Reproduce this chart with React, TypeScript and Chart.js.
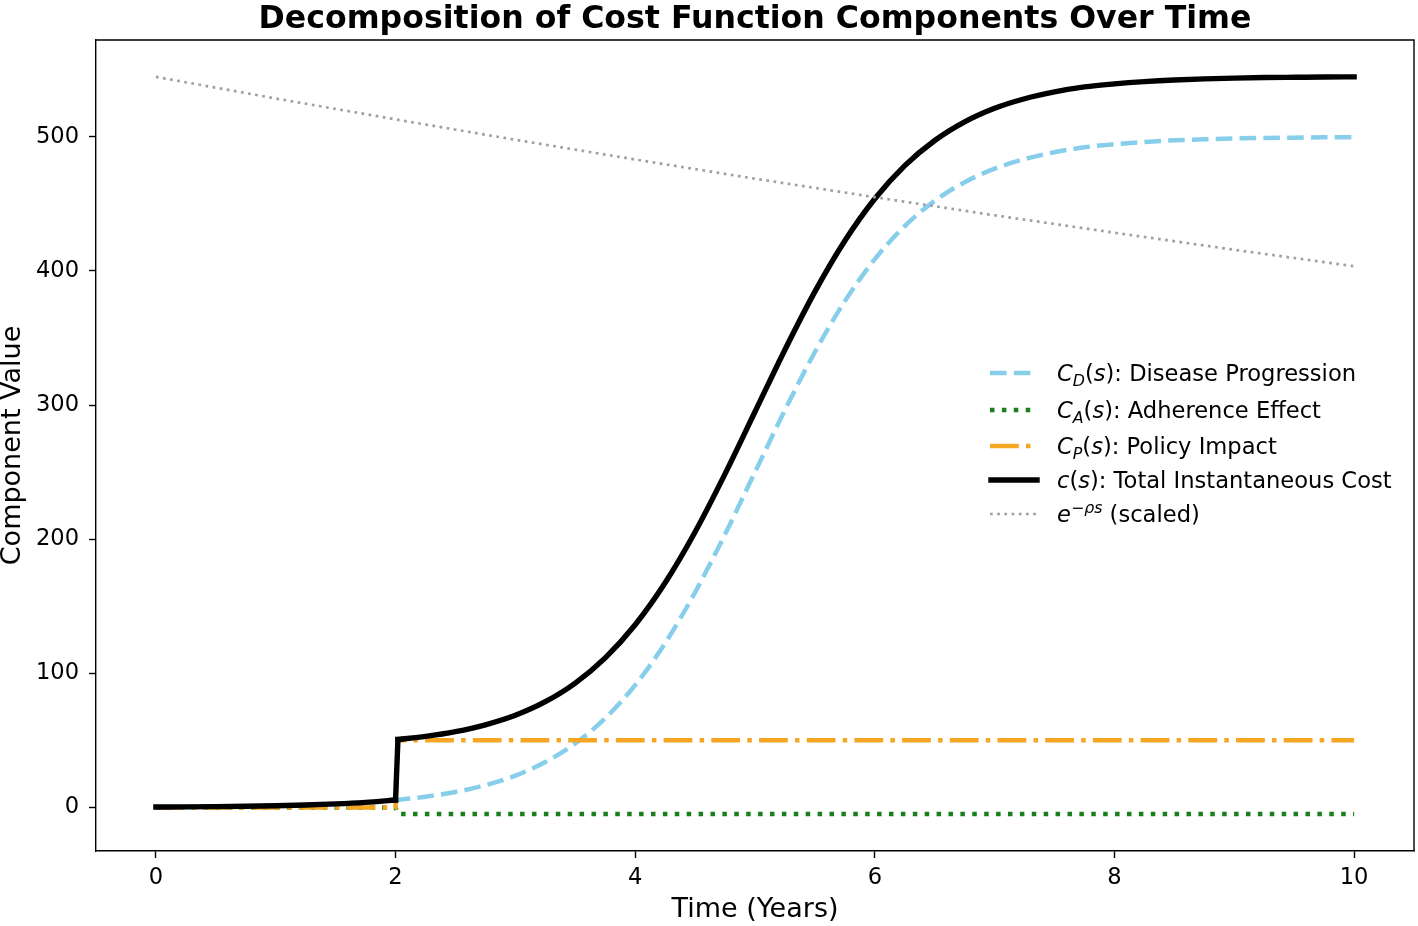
import { useEffect, useRef } from "react";
import { Chart, registerables } from "chart.js";

Chart.register(...registerables);

const FONT = '"DejaVu Sans", sans-serif';
Chart.defaults.font.family = FONT;

// time samples (years)
const timeGrid = [
  0, 0.25, 0.5, 0.75, 1, 1.25, 1.5, 1.75, 2, 2.25, 2.5, 2.75, 3, 3.25, 3.5, 3.75, 4, 4.25, 4.5, 4.75, 5,
  5.25, 5.5, 5.75, 6, 6.25, 6.5, 6.75, 7, 7.25, 7.5, 7.75, 8, 8.25, 8.5, 8.75, 9, 9.25, 9.5, 9.75, 10,
];
const diseaseValues = [
  0.28, 0.4, 0.59, 0.85, 1.24, 1.8, 2.61, 3.79, 5.49, 7.95, 11.5, 16.6, 23.7, 33.8, 47.7, 66.5, 91.2,
  122.5, 160.4, 203.7, 250, 296.3, 339.6, 377.5, 408.8, 433.5, 452.3, 466.2, 476.3, 483.4, 488.5, 492.2,
  494.5, 496.2, 497.4, 498.2, 498.8, 499.2, 499.4, 499.6, 499.7,
];

// total cost: jumps between 2 and 2.02 when adherence/policy switch on
const totalTimes = [
  0, 0.25, 0.5, 0.75, 1, 1.25, 1.5, 1.75, 2, 2.02, 2.25, 2.5, 2.75, 3, 3.25, 3.5, 3.75, 4, 4.25, 4.5, 4.75,
  5, 5.25, 5.5, 5.75, 6, 6.25, 6.5, 6.75, 7, 7.25, 7.5, 7.75, 8, 8.25, 8.5, 8.75, 9, 9.25, 9.5, 9.75, 10,
];
const totalValues = [
  0.28, 0.4, 0.59, 0.85, 1.24, 1.8, 2.61, 3.79, 5.49, 50.65, 52.95, 56.5, 61.6, 68.7, 78.8, 92.7, 111.5,
  136.2, 167.5, 205.4, 248.7, 295, 341.3, 384.6, 422.5, 453.8, 478.5, 497.3, 511.2, 521.3, 528.4, 533.5,
  537.2, 539.5, 541.2, 542.4, 543.2, 543.8, 544.2, 544.4, 544.6, 544.7,
];
const JUMP = 8; // index of last point before the jump

const stepTimes = [0, 2, 2.02, 10];
const adherenceValues = [0, 0, -5, -5];
const policyValues = [0, 0, 50, 50];

const discountTimes = [0, 1, 2, 3, 4, 5, 6, 7, 8, 9, 10];
const discountValues = [544.7, 528.6, 513.0, 497.8, 483.1, 468.8, 455.0, 441.5, 428.5, 415.8, 403.5];

const xTicks = [0, 2, 4, 6, 8, 10];
const yTicks = [0, 100, 200, 300, 400, 500];

const TITLE = "Decomposition of Cost Function Components Over Time";

const BLUE = "#87ceeb";
const GREEN = "#1a7f1a";
const ORANGE = "#f5a623";
const GRAY = "#a0a0a0";

const pts = (xs: number[], ys: number[]) => xs.map((x, i) => ({ x, y: ys[i] }));

type Run = { t: string; it?: boolean; sub?: boolean; sup?: boolean };

function drawRuns(ctx: CanvasRenderingContext2D, x: number, y: number, runs: Run[], size: number) {
  let cx = x;
  for (const r of runs) {
    const s = r.sub || r.sup ? size * 0.7 : size;
    ctx.font = `${r.it ? "italic " : ""}${s}px ${FONT}`;
    const dy = r.sub ? size * 0.2 : r.sup ? -size * 0.42 : 0;
    ctx.fillText(r.t, cx, y + dy);
    cx += ctx.measureText(r.t).width;
  }
}

const legendRows: { color: string; width: number; dash: number[]; cap: CanvasLineCap; y: number; runs: Run[] }[] = [
  {
    color: BLUE, width: 4.5, dash: [16.6, 7.2], cap: "butt", y: 373,
    runs: [{ t: "C", it: true }, { t: "D", it: true, sub: true }, { t: "(" }, { t: "s", it: true }, { t: "): Disease Progression" }],
  },
  {
    color: GREEN, width: 4.5, dash: [4.5, 7.4], cap: "butt", y: 410,
    runs: [{ t: "C", it: true }, { t: "A", it: true, sub: true }, { t: "(" }, { t: "s", it: true }, { t: "): Adherence Effect" }],
  },
  {
    color: ORANGE, width: 4.5, dash: [28.8, 7.2, 4.5, 7.2], cap: "butt", y: 446,
    runs: [{ t: "C", it: true }, { t: "P", it: true, sub: true }, { t: "(" }, { t: "s", it: true }, { t: "): Policy Impact" }],
  },
  {
    color: "#000", width: 5.4, dash: [], cap: "square", y: 480,
    runs: [{ t: "c", it: true }, { t: "(" }, { t: "s", it: true }, { t: "): Total Instantaneous Cost" }],
  },
  {
    color: GRAY, width: 2.7, dash: [2.7, 4.5], cap: "butt", y: 514,
    runs: [{ t: "e", it: true }, { t: "\u2212\u03c1s", it: true, sup: true }, { t: " (scaled)" }],
  },
];

const decorPlugin = {
  id: "decor",
  afterDraw(chart: Chart) {
    const ctx = chart.ctx;
    const { left, right, top, bottom } = chart.chartArea;
    ctx.save();
    // top and right spines
    ctx.strokeStyle = "#000";
    ctx.lineWidth = 1.4;
    ctx.beginPath();
    ctx.moveTo(left, top);
    ctx.lineTo(right, top);
    ctx.lineTo(right, bottom);
    ctx.stroke();

    // title
    ctx.fillStyle = "#000";
    ctx.font = `bold 31.6px ${FONT}`;
    ctx.textAlign = "center";
    ctx.textBaseline = "alphabetic";
    ctx.fillText(TITLE, (left + right) / 2, 28);

    // legend
    ctx.textAlign = "left";
    for (const row of legendRows) {
      ctx.strokeStyle = row.color;
      ctx.lineWidth = row.width;
      ctx.lineCap = row.cap;
      ctx.setLineDash(row.dash);
      ctx.beginPath();
      ctx.moveTo(row.cap === "square" ? 991 : 990, row.y);
      ctx.lineTo(1037, row.y);
      ctx.stroke();
      ctx.setLineDash([]);
      ctx.fillStyle = "#000";
      drawRuns(ctx, 1057, row.y + 8, row.runs, 22.6);
    }
    ctx.restore();
  },
};

const blackLine = {
  borderColor: "#000",
  borderWidth: 5.4,
  borderCapStyle: "square" as const,
  borderJoinStyle: "round" as const,
  pointRadius: 0,
  order: 2,
};

export default function App() {
  const canvasRef = useRef<HTMLCanvasElement>(null);

  useEffect(() => {
    const canvas = canvasRef.current;
    if (!canvas) return;

    const totalPts = pts(totalTimes, totalValues);

    const chart = new Chart(canvas, {
      type: "line",
      data: {
        datasets: [
          {
            label: "C_D(s): Disease Progression",
            data: pts(timeGrid, diseaseValues),
            borderColor: BLUE,
            borderWidth: 4.5,
            borderDash: [16.6, 7.2],
            cubicInterpolationMode: "monotone",
            pointRadius: 0,
            order: 5,
          },
          {
            label: "C_A(s): Adherence Effect",
            data: pts(stepTimes, adherenceValues),
            borderColor: GREEN,
            borderWidth: 4.5,
            borderDash: [4.5, 7.4],
            tension: 0,
            pointRadius: 0,
            order: 4,
          },
          {
            label: "C_P(s): Policy Impact",
            data: pts(stepTimes, policyValues),
            borderColor: ORANGE,
            borderWidth: 4.5,
            borderDash: [28.8, 7.2, 4.5, 7.2],
            tension: 0,
            pointRadius: 0,
            order: 3,
          },
          // total cost drawn in three pieces so the jump stays a straight edge
          {
            label: "c(s): Total Instantaneous Cost",
            data: totalPts.slice(0, JUMP + 1),
            cubicInterpolationMode: "monotone",
            ...blackLine,
          },
          {
            label: "c(s) jump",
            data: totalPts.slice(JUMP, JUMP + 2),
            tension: 0,
            ...blackLine,
          },
          {
            label: "c(s) after jump",
            data: totalPts.slice(JUMP + 1),
            cubicInterpolationMode: "monotone",
            ...blackLine,
          },
          {
            label: "e^{-rho s} (scaled)",
            data: pts(discountTimes, discountValues),
            borderColor: GRAY,
            borderWidth: 2.7,
            borderDash: [2.7, 4.5],
            tension: 0,
            pointRadius: 0,
            order: 1,
          },
        ],
      },
      options: {
        responsive: true,
        maintainAspectRatio: false,
        animation: false,
        layout: { padding: { left: 0, right: 4, top: 40, bottom: 0 } },
        plugins: {
          legend: { display: false },
          title: { display: false },
          tooltip: { enabled: false },
        },
        scales: {
          x: {
            type: "linear",
            min: -0.5,
            max: 10.5,
            afterBuildTicks: (scale: any) => {
              scale.ticks = xTicks.map((v) => ({ value: v }));
            },
            afterFit: (scale: any) => {
              scale.height = 75;
            },
            ticks: {
              color: "#000",
              font: { size: 22.6 },
              padding: 6.4,
              maxRotation: 0,
              autoSkip: false,
              callback: (v: any) => String(v),
            },
            grid: { drawOnChartArea: false, tickLength: 7, tickColor: "#000", tickWidth: 1.4 },
            border: { color: "#000", width: 1.4 },
            title: {
              display: true,
              text: "Time (Years)",
              color: "#000",
              font: { size: 27 },
              padding: { top: 0, bottom: 0 },
            },
          },
          y: {
            type: "linear",
            min: -32.5,
            max: 572.2,
            afterBuildTicks: (scale: any) => {
              scale.ticks = yTicks.map((v) => ({ value: v }));
            },
            afterFit: (scale: any) => {
              scale.width = 96;
            },
            ticks: {
              color: "#000",
              font: { size: 22.6 },
              padding: 10,
              autoSkip: false,
              callback: (v: any) => String(v),
            },
            grid: { drawOnChartArea: false, tickLength: 7, tickColor: "#000", tickWidth: 1.4 },
            border: { color: "#000", width: 1.4 },
            title: {
              display: true,
              text: "Component Value",
              color: "#000",
              font: { size: 27, lineHeight: 0.93 },
              padding: { top: 0, bottom: 0 },
            },
          },
        },
      },
      plugins: [decorPlugin],
    });

    return () => chart.destroy();
  }, []);

  return (
    <div style={{ position: "absolute", left: 0, top: 0, width: 1418, height: 926, background: "#fff" }}>
      <canvas ref={canvasRef} />
    </div>
  );
}
